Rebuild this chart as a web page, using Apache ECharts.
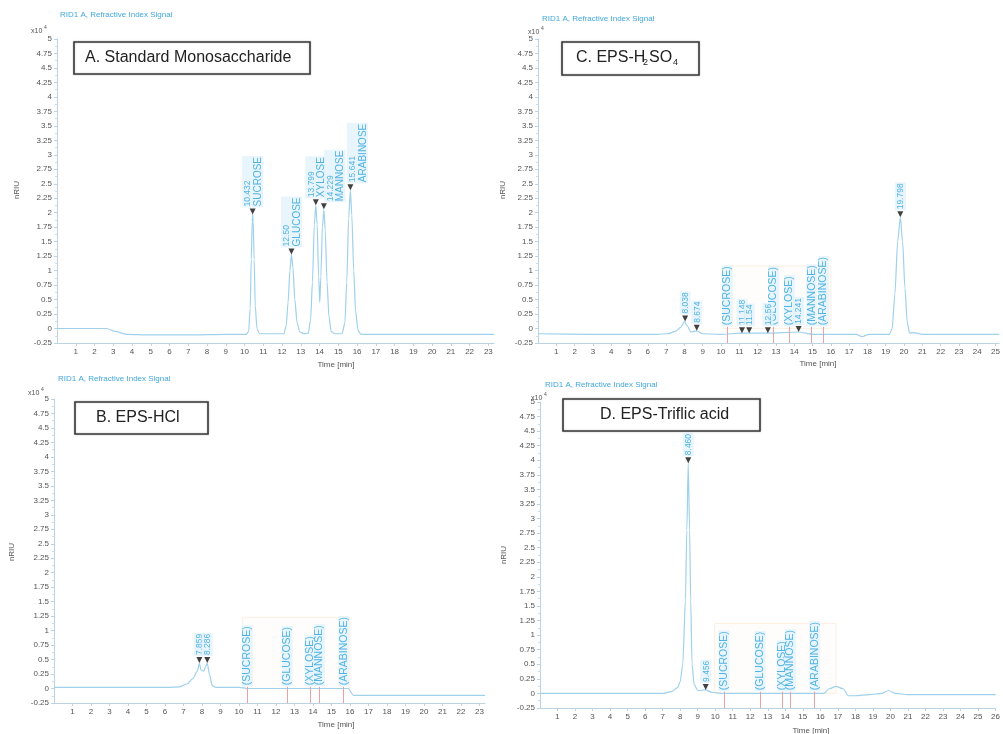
<!DOCTYPE html>
<html>
<head>
<meta charset="utf-8">
<script src="https://cdn.jsdelivr.net/npm/echarts@6/dist/echarts.min.js"></script>
<style>
  html, body { margin: 0; padding: 0; background: #ffffff; }
  #chart { width: 1003px; height: 734px; }
</style>
</head>
<body>
<div id="chart"></div>
<script>
// Refractive index chromatograms (x10^4 nRIU vs. retention time in min)

// A. Standard monosaccharide mix
const traceA = [
  [0, 0], [1, 0], [2, 0], [2.65, 0], [3.1, -0.05], [3.7, -0.1], [5, -0.11], [7, -0.11], [9, -0.1],
  [10.1, -0.1], [10.22, -0.05], [10.3, 0.35], [10.36, 1.2], [10.41, 1.85], [10.432, 1.97], [10.46, 1.85],
  [10.51, 1.2], [10.57, 0.4], [10.66, 0.0], [10.8, -0.09],
  [12.1, -0.09], [12.22, 0.05], [12.32, 0.45], [12.42, 1.0], [12.5, 1.28], [12.58, 1.05], [12.68, 0.5],
  [12.8, 0.1], [12.95, -0.06], [13.2, -0.09],
  [13.4, -0.08], [13.52, 0.15], [13.62, 0.8], [13.72, 1.8], [13.799, 2.13], [13.87, 1.8], [13.95, 0.9],
  [14.01, 0.45], [14.07, 0.9], [14.15, 1.75], [14.229, 2.06], [14.3, 1.7], [14.4, 0.8], [14.5, 0.2],
  [14.62, -0.05], [14.8, -0.09],
  [15.2, -0.09], [15.35, 0.1], [15.45, 0.8], [15.55, 1.9], [15.641, 2.39], [15.72, 1.95], [15.82, 1.0],
  [15.92, 0.3], [16.05, -0.03], [16.2, -0.1], [18, -0.1], [20, -0.1], [23.3, -0.1]
];
const peaksA = [
  [10.432, 1.97, '10.432', 'SUCROSE'],
  [12.5, 1.28, '12.50', 'GLUCOSE'],
  [13.799, 2.13, '13.799', 'XYLOSE'],
  [14.229, 2.06, '14.229', 'MANNOSE'],
  [15.641, 2.39, '15.641', 'ARABINOSE']
];

// B. EPS hydrolysed with HCl
const traceB = [
  [0, 0.02], [2, 0.02], [4, 0.02], [6, 0.02], [6.8, 0.03], [7.2, 0.08], [7.5, 0.17], [7.75, 0.3],
  [7.859, 0.44], [7.95, 0.32], [8.1, 0.3], [8.2, 0.38], [8.286, 0.44], [8.4, 0.25], [8.55, 0.05],
  [8.75, 0.02], [10, 0.02], [10.5, 0.0], [12, 0.0], [14, 0.0], [15.9, 0.0], [16.2, -0.12],
  [18, -0.12], [20, -0.12], [23.3, -0.12]
];
const peaksB = [
  [7.859, 0.44, '7.859', ''],
  [8.286, 0.44, '8.286', '']
];
const refsB = [
  [10.45, '(SUCROSE)'], [12.6, '(GLUCOSE)'], [13.84, '(XYLOSE)'], [14.35, '(MANNOSE)'], [15.66, '(ARABINOSE)']
];
const windowB = [10.2, 16.0, 1.23];

// C. EPS hydrolysed with H2SO4
const traceC = [
  [0, -0.09], [3, -0.1], [6.5, -0.1], [7.1, -0.09], [7.5, -0.05], [7.8, 0.02], [8.0, 0.12], [8.15, 0.05],
  [8.35, -0.06], [8.674, -0.04], [9, -0.09], [10, -0.1], [11.148, -0.08], [11.5, -0.08], [12.5, -0.08],
  [14.241, -0.06], [15, -0.1], [17.4, -0.1], [17.7, -0.14], [18.1, -0.1], [19.2, -0.1], [19.35, 0.0],
  [19.5, 0.6], [19.65, 1.5], [19.798, 1.92], [19.92, 1.5], [20.05, 0.7], [20.18, 0.1], [20.3, -0.08],
  [20.5, -0.07], [21, -0.1], [23, -0.1], [25.2, -0.1]
];
const peaksC = [
  [8.038, 0.12, '8.038', ''],
  [8.674, -0.04, '8.674', ''],
  [11.148, -0.08, '11.148', ''],
  [11.54, -0.08, '11.54', ''],
  [12.56, -0.08, '12.56', ''],
  [14.241, -0.06, '14.241', ''],
  [19.798, 1.92, '19.798', '']
];
const refsC = [
  [10.35, '(SUCROSE)'], [12.87, '(GLUCOSE)'], [13.73, '(XYLOSE)'], [14.95, '(MANNOSE)'], [15.6, '(ARABINOSE)']
];
const windowC = [10.15, 16.0, 1.08];

// D. EPS hydrolysed with triflic acid
const traceD = [
  [0, 0.0], [3, 0.0], [7, 0.0], [7.5, 0.03], [7.85, 0.1], [8.0, 0.2], [8.15, 0.5], [8.3, 1.6], [8.38, 2.8],
  [8.46, 3.95], [8.54, 2.8], [8.6, 1.6], [8.68, 0.5], [8.8, 0.15], [9.0, 0.05], [9.456, 0.06], [9.8, 0.02],
  [10.5, 0.0], [13, 0.0], [16.2, 0.0], [16.5, 0.08], [16.9, 0.12], [17.3, 0.08], [17.6, -0.04],
  [18.0, -0.04], [18.8, -0.02], [19.5, 0.0], [19.9, 0.05], [20.3, 0.0], [21, -0.02], [26, -0.02]
];
const peaksD = [
  [8.46, 3.95, '8.460', ''],
  [9.456, 0.06, '9.456', '']
];
const refsD = [
  [10.5, '(SUCROSE)'], [12.56, '(GLUCOSE)'], [13.83, '(XYLOSE)'], [14.3, '(MANNOSE)'], [15.68, '(ARABINOSE)']
];
const windowD = [9.97, 16.9, 1.2];

// Panel geometry (pixels), time range and sideways nudges for crowded peak labels
const panels = [
  { trace: traceA, peaks: peaksA, refs: [], win: null, shift: [0, 0, 0, 11, 7],
    left: 57, top: 39, width: 437, height: 304, xMax: 23.3, showMax: false },
  { trace: traceC, peaks: peaksC, refs: refsC, win: windowC, shift: [],
    left: 538, top: 39, width: 466, height: 304, xMax: 25.2, showMax: false },
  { trace: traceB, peaks: peaksB, refs: refsB, win: windowB, shift: [],
    left: 54, top: 399, width: 431, height: 304, xMax: 23.3, showMax: false },
  { trace: traceD, peaks: peaksD, refs: refsD, win: windowD, shift: [],
    left: 540, top: 402, width: 463, height: 306, xMax: 26, showMax: true }
];

const FONT = 'Liberation Sans, Arial, sans-serif';
const TRACE_COLOR = '#9fd1ec';
const LABEL_COLOR = '#2aa3dc';
const LABEL_BG = '#e2f2fb';

const labelRich = {
  n: { fontSize: 8.5, lineHeight: 10, fontFamily: FONT, color: LABEL_COLOR },
  s: { fontSize: 10, lineHeight: 10, fontFamily: FONT, color: LABEL_COLOR }
};

const grids = [], xAxes = [], yAxes = [], series = [];

panels.forEach((p, i) => {
  grids.push({ left: p.left, top: p.top, width: p.width, height: p.height, containLabel: false });
  xAxes.push({
    type: 'value', gridIndex: i, min: 0, max: p.xMax, interval: 1,
    axisLine: { show: true, onZero: false, lineStyle: { color: '#bcd3e3', width: 1 } },
    axisTick: { show: true, length: 3, lineStyle: { color: '#bcd3e3' } },
    axisLabel: { fontSize: 8, color: '#555', fontFamily: FONT, margin: 5, showMinLabel: false, showMaxLabel: p.showMax },
    splitLine: { show: false }
  });
  yAxes.push({
    type: 'value', gridIndex: i, min: -0.25, max: 5, interval: 0.25,
    axisLine: { show: true, onZero: false, lineStyle: { color: '#bcd3e3', width: 1 } },
    axisTick: { show: true, length: 3, lineStyle: { color: '#bcd3e3' } },
    minorTick: { show: true, splitNumber: 2, length: 2, lineStyle: { color: '#cfdfea' } },
    axisLabel: { fontSize: 8, color: '#555', fontFamily: FONT, margin: 5 },
    splitLine: { show: false }
  });

  const traceSeries = {
    type: 'line', xAxisIndex: i, yAxisIndex: i, data: p.trace,
    showSymbol: false, smooth: 0.25, smoothMonotone: 'x', silent: true,
    lineStyle: { color: TRACE_COLOR, width: 1.2 }, z: 2
  };
  if (p.refs.length) {
    traceSeries.markLine = {
      silent: true, symbol: 'none', label: { show: false },
      lineStyle: { color: '#e6a3a3', width: 1, type: 'solid' },
      data: p.refs.map(r => [{ coord: [r[0], -0.25] }, { coord: [r[0], 0.03] }])
    };
  }
  if (p.win) {
    // integration window of the standards
    traceSeries.markArea = {
      silent: true, label: { show: false },
      itemStyle: { color: 'rgba(255,240,222,0.10)', borderColor: 'rgba(245,200,150,0.25)', borderWidth: 1 },
      data: [[{ coord: [p.win[0], 0] }, { coord: [p.win[1], p.win[2]] }]]
    };
  }
  series.push(traceSeries);

  // detected peaks: down-pointing markers with retention time labels
  series.push({
    type: 'scatter', xAxisIndex: i, yAxisIndex: i, z: 4,
    symbol: 'triangle', symbolRotate: 180, symbolSize: 6, symbolOffset: [0, -3],
    itemStyle: { color: '#111' },
    data: p.peaks.map((pk, k) => ({
      value: [pk[0], pk[1]],
      name: pk[3] ? '{n|' + pk[2] + '}\n{s|' + pk[3] + '}' : '{n|' + pk[2] + '}',
      // label offset is measured in the rotated text frame: +y moves it right on screen
      label: { offset: [0, p.shift[k] || 0] }
    })),
    label: {
      show: true, formatter: d => d.name, position: 'top', distance: 1,
      rotate: 90, align: 'left', verticalAlign: 'middle',
      backgroundColor: LABEL_BG, padding: [1, 1, 0, 1], rich: labelRich
    }
  });

  // expected standard positions
  if (p.refs.length) {
    series.push({
      type: 'scatter', xAxisIndex: i, yAxisIndex: i, z: 3,
      symbol: 'circle', symbolSize: 1, itemStyle: { color: 'transparent' },
      data: p.refs.map(r => ({ value: [r[0], 0.03], name: r[1] })),
      label: {
        show: true, formatter: d => d.name, position: 'top', distance: 0,
        rotate: 90, align: 'left', verticalAlign: 'middle',
        fontSize: 10.5, lineHeight: 10, fontFamily: FONT, color: LABEL_COLOR,
        backgroundColor: LABEL_BG, padding: [1, 1, 0, 1]
      }
    });
  }
});

// Headers, panel boxes, axis names and exponent marks
const graphic = [];
function header(x, y) {
  graphic.push({ type: 'text', left: x, top: y, silent: true,
    style: { text: 'RID1 A, Refractive Index Signal', font: '8px ' + FONT, fill: '#43a8dd' } });
}
header(60, 11); header(542, 15); header(58, 375); header(545, 381);

function box(x, y, w, h) {
  graphic.push({ type: 'rect', silent: true, shape: { x: x, y: y, width: w, height: h },
    style: { fill: '#ffffff', stroke: '#3a3a3a', lineWidth: 1.6, shadowColor: 'rgba(0,0,0,0.25)', shadowBlur: 2 }, z: 10 });
}
function label(x, y, text, size) {
  graphic.push({ type: 'text', silent: true, x: x, y: y, z: 11,
    style: { text: text, font: size + 'px ' + FONT, fill: '#222', verticalAlign: 'middle' } });
}
box(74, 42, 236, 32); label(85, 58, 'A. Standard Monosaccharide', 16);
box(562, 42, 137, 33); label(576, 58, 'C. EPS-H', 16); label(643, 63, '2', 9); label(649, 58, 'SO', 16); label(673, 63, '4', 9);
box(75, 402, 133, 32); label(96, 418, 'B. EPS-HCl', 16);
box(563, 399, 197, 32); label(600, 415, 'D. EPS-Triflic acid', 16);

function yName(x, y) {
  graphic.push({ type: 'text', silent: true, x: x, y: y, rotation: Math.PI / 2,
    style: { text: 'nRIU', font: '8px ' + FONT, fill: '#555', align: 'center', verticalAlign: 'middle' } });
}
yName(17, 190); yName(503, 190); yName(12, 552); yName(504, 555);

function xName(x, y) {
  graphic.push({ type: 'text', silent: true, x: x, y: y,
    style: { text: 'Time [min]', font: '8px ' + FONT, fill: '#555', align: 'center', verticalAlign: 'middle' } });
}
xName(336, 365); xName(818, 364); xName(336, 725); xName(811, 731);

function expo(x, y) {
  graphic.push({ type: 'text', silent: true, x: x, y: y,
    style: { text: 'x10', font: '7px ' + FONT, fill: '#555', verticalAlign: 'middle' } });
  graphic.push({ type: 'text', silent: true, x: x + 13, y: y - 3,
    style: { text: '4', font: '5px ' + FONT, fill: '#555', verticalAlign: 'middle' } });
}
expo(31, 31); expo(528, 32); expo(28, 393); expo(531, 398);

const chart = echarts.init(document.getElementById('chart'), null, { renderer: 'canvas' });
chart.setOption({
  animation: false,
  backgroundColor: '#ffffff',
  grid: grids, xAxis: xAxes, yAxis: yAxes, series: series, graphic: graphic
});
</script>
</body>
</html>
